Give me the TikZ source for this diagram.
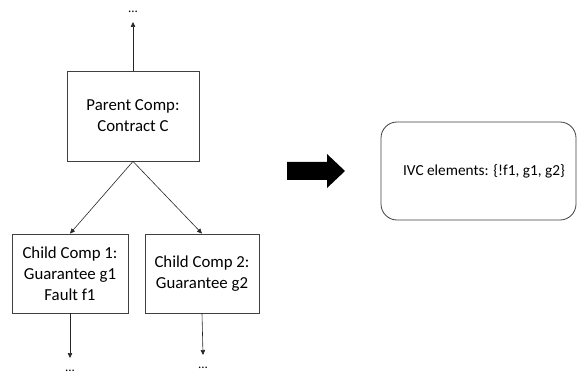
\documentclass[tikz,border=0pt]{standalone}
\usepackage{fontspec}
\setmainfont{Carlito}
\usetikzlibrary{arrows.meta}
\begin{document}
\begin{tikzpicture}[x=1pt,y=-1pt,
  box/.style={draw=black!75, line width=0.8pt, fill=white, inner sep=0pt, align=center, font=\fontsize{16.8}{21}\selectfont},
  link/.style={draw=black!85, line width=0.6pt, -{Triangle[length=5pt,width=4.5pt]}},
  dots/.style={font=\fontsize{13}{13}\selectfont, inner sep=0pt}]
  \useasboundingbox (0,0) rectangle (577,379);
  % parent and children
  \node[box, minimum width=132pt, minimum height=90pt] (parent) at (133,116) {Parent Comp:\\Contract C};
  \node[box, minimum width=116pt, minimum height=79pt] (child1) at (70,273.5) {Child Comp 1:\\Guarantee g1\\Fault f1};
  \node[box, minimum width=114pt, minimum height=79pt] (child2) at (202,273.5) {Child Comp 2:\\Guarantee g2};
  % open ends of the hierarchy
  \node[dots] (topdots) at (133,12) {...};
  \node[dots] (dots1) at (70,371) {...};
  \node[dots] (dots2) at (203,368) {...};
  \coordinate (topend) at (133,22);
  \coordinate (end1) at (70,358);
  \coordinate (end2) at (203,355);
  \draw[link] (parent.north) -- (topend);
  \draw[link] (parent.south) -- (child1.north);
  \draw[link] (parent.south) -- (child2.north);
  \draw[link] (child1.south) -- (end1);
  \draw[link] (child2.south) -- (end2);
  % block arrow
  \fill[black] (287,162) -- (327,162) -- (327,154) -- (345,171) -- (327,188) -- (327,180) -- (287,180) -- cycle;
  % result box
  \node[box, rounded corners=16pt, minimum width=195pt, minimum height=98pt] (ivc) at (478.5,171) {};
  \node[font=\fontsize{15.3}{19}\selectfont, inner sep=0pt] (ivctext) at (484,171) {IVC elements: \{!f1, g1, g2\}};
\end{tikzpicture}
\end{document}
